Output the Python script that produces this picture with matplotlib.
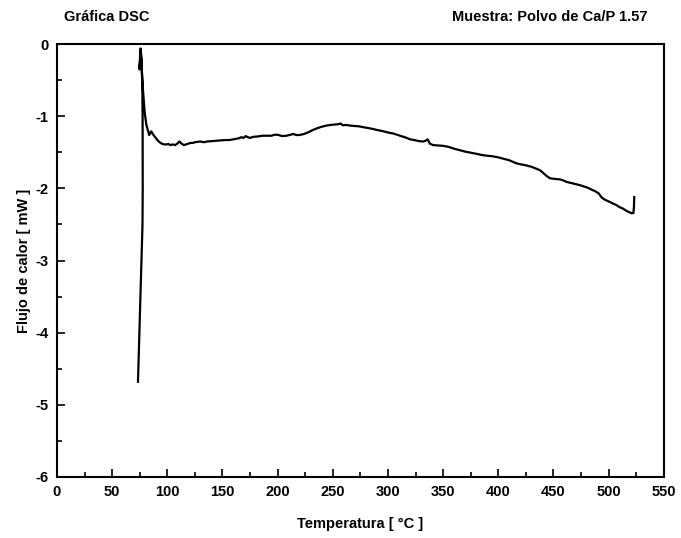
import matplotlib
matplotlib.use('Agg')
import matplotlib.pyplot as plt
from matplotlib.ticker import MultipleLocator

plt.rcParams['font.family'] = ['Liberation Sans', 'DejaVu Sans']
plt.rcParams['axes.unicode_minus'] = False

# temperature [C] and heat flow [mW]
temp = [73.4, 74.5, 75.6, 76.8, 77.5, 77.7, 77.7, 77.6, 77.3, 76.6, 75.8, 75.2, 74.7,
        75.3, 75.9, 76.6, 78.0, 79.5, 81.0, 82.5, 83.5, 84.5, 85.5, 87, 89, 91, 93,
        95, 97, 99, 101, 103, 105, 107, 109, 111, 113, 115, 117, 119, 121, 123, 125,
        127, 130, 133, 136, 140, 144, 148, 152, 156, 160, 163, 165, 167, 169, 171,
        173, 175, 178, 182, 186, 190, 194, 198, 201, 204, 208, 212, 214, 217, 220,
        224, 228, 232, 236, 240, 244, 248, 252, 255, 257, 259, 262, 266, 270, 274,
        277, 281, 286, 290, 295, 300, 305, 310, 314, 317, 320, 324, 328, 332, 334,
        336, 338, 341, 345, 350, 355, 360, 370, 380, 386, 395, 400, 405, 410, 416,
        420, 425, 430, 435, 438, 441, 444, 447, 452, 456, 459, 462, 466, 470, 474,
        477, 481, 485, 488, 491, 494, 497, 500, 504, 507, 510, 513, 516, 519, 521,
        522.5, 523, 523.2]
flow = [-4.68, -4.1, -3.5, -2.9, -2.5, -2.0, -1.5, -1.0, -0.55, -0.2, -0.06, -0.2, -0.35,
        -0.22, -0.1, -0.3, -0.65, -0.95, -1.12, -1.2, -1.26, -1.23, -1.21, -1.25, -1.29,
        -1.33, -1.36, -1.38, -1.39, -1.39, -1.385, -1.40, -1.39, -1.40, -1.38, -1.35,
        -1.38, -1.40, -1.39, -1.38, -1.37, -1.37, -1.36, -1.355, -1.35, -1.36, -1.35,
        -1.345, -1.34, -1.335, -1.33, -1.33, -1.32, -1.31, -1.305, -1.29, -1.30,
        -1.275, -1.29, -1.30, -1.285, -1.28, -1.27, -1.27, -1.27, -1.255, -1.26,
        -1.275, -1.27, -1.255, -1.245, -1.26, -1.26, -1.245, -1.22, -1.19, -1.165,
        -1.145, -1.13, -1.12, -1.115, -1.11, -1.10, -1.125, -1.12, -1.13, -1.135,
        -1.14, -1.15, -1.16, -1.175, -1.19, -1.205, -1.225, -1.24, -1.265, -1.285,
        -1.30, -1.32, -1.33, -1.345, -1.35, -1.34, -1.32, -1.38, -1.40, -1.405,
        -1.41, -1.425, -1.45, -1.49, -1.52, -1.54, -1.555, -1.57, -1.59, -1.61,
        -1.65, -1.665, -1.68, -1.70, -1.73, -1.75, -1.79, -1.83, -1.86, -1.87,
        -1.875, -1.89, -1.91, -1.925, -1.94, -1.955, -1.97, -1.99, -2.02, -2.04,
        -2.07, -2.13, -2.16, -2.18, -2.21, -2.23, -2.26, -2.28, -2.31, -2.33,
        -2.345, -2.34, -2.25, -2.12]

fig = plt.figure(figsize=(6.81, 5.38), dpi=100)
ax = fig.add_axes([0.0837, 0.1134, 0.891, 0.8046])

ax.plot(temp, flow, color='black', lw=1.6)

ax.set_xlim(0, 550)
ax.set_ylim(-6, 0)
ax.xaxis.set_major_locator(MultipleLocator(50))
ax.xaxis.set_minor_locator(MultipleLocator(25))
ax.yaxis.set_major_locator(MultipleLocator(1))
ax.yaxis.set_minor_locator(MultipleLocator(0.5))
ax.tick_params(which='both', direction='in', top=False, right=False, width=1.2,
               labelsize=10.5, pad=6)
ax.tick_params(which='major', length=6)
ax.tick_params(which='minor', length=3.5)
for lab in ax.get_xticklabels() + ax.get_yticklabels():
    lab.set_fontweight('bold')
for s in ax.spines.values():
    s.set_linewidth(1.5)

ax.set_xlabel('Temperatura [ °C ]', fontsize=10.5, fontweight='bold', labelpad=13)
ax.set_ylabel('Flujo de calor [ mW ]', fontsize=10.5, fontweight='bold', labelpad=3)

fig.text(64 / 681, 1 - 17 / 538, 'Gráfica DSC', fontsize=10.5, fontweight='bold',
         ha='left', va='center')
fig.text(648 / 681, 1 - 17 / 538, 'Muestra: Polvo de Ca/P 1.57', fontsize=10.5,
         fontweight='bold', ha='right', va='center')

fig.savefig('out.png', dpi=100)
